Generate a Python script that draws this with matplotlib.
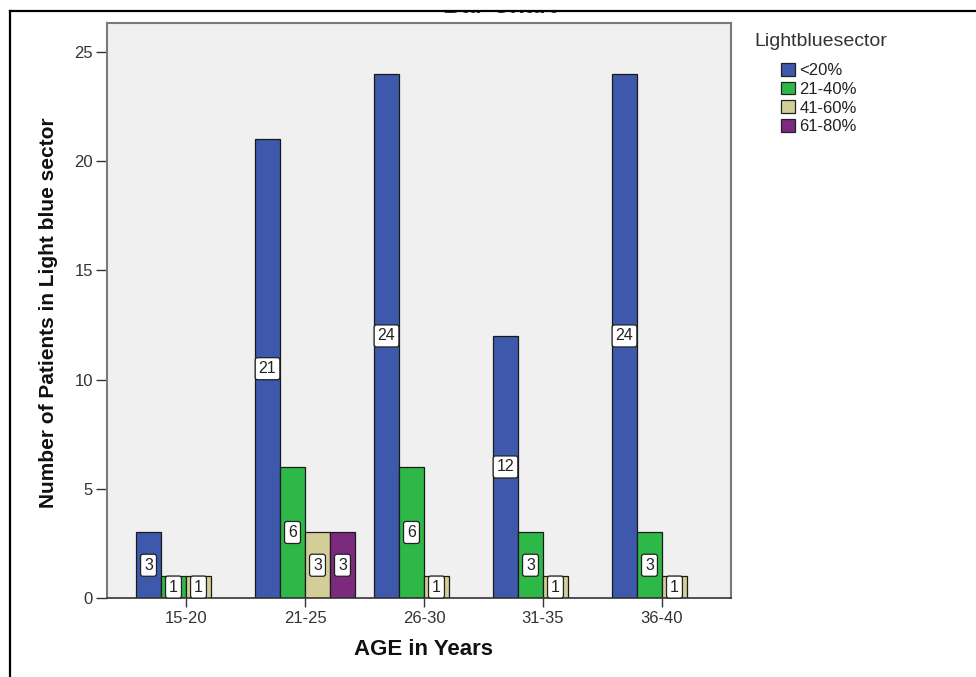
import matplotlib
matplotlib.use("Agg")
import matplotlib.pyplot as plt
import numpy as np
from matplotlib.patches import Patch, Rectangle
from matplotlib.lines import Line2D

plt.rcParams['font.family'] = ['Liberation Sans', 'DejaVu Sans']

age_groups = ["15-20", "21-25", "26-30", "31-35", "36-40"]
sectors = ["<20%", "21-40%", "41-60%", "61-80%"]
counts_lt20 = [3, 21, 24, 12, 24]
counts_21_40 = [1, 6, 6, 3, 3]
counts_41_60 = [1, 3, 1, 1, 1]
counts_61_80 = [0, 3, 0, 0, 0]
series = [counts_lt20, counts_21_40, counts_41_60, counts_61_80]
colors = ["#3E58AC", "#2EB848", "#D3CE97", "#7B2A7E"]

W, H = 976, 677
fig = plt.figure(figsize=(W / 100, H / 100), dpi=100)
fig.patch.set_facecolor("white")

ax = fig.add_axes([107 / W, 1 - 598 / H, (731 - 107) / W, (598 - 23) / H])
ax.set_facecolor("#F0F0F0")

x = np.arange(len(age_groups))
bw = 0.21
for i, (vals, c) in enumerate(zip(series, colors)):
    offs = (i - 1.5) * bw
    for xi, v in zip(x, vals):
        if v <= 0:
            continue
        ax.bar(xi + offs, v, width=bw, color=c, edgecolor="#1a1a1a", linewidth=0.9, zorder=2)
        ax.text(xi + offs, v / 2, str(v), ha="center", va="center", fontsize=11.5,
                color="#222222", zorder=4, clip_on=False,
                bbox=dict(boxstyle="round,pad=0.22,rounding_size=0.15", fc="white",
                          ec="#222222", lw=0.9))

ax.set_xlim(-0.664, 4.58)
ax.set_ylim(0, 26.33)
ax.set_xticks(x)
ax.set_xticklabels(age_groups)
ax.set_yticks([0, 5, 10, 15, 20, 25])
ax.tick_params(axis="x", direction="out", length=6.5, width=1, colors="#333333",
               labelsize=12, pad=3)
ax.tick_params(axis="y", direction="out", length=8, width=1, colors="#333333",
               labelsize=12, pad=2)
for s in ax.spines.values():
    s.set_color("#7a7a7a")
    s.set_linewidth(1.5)
ax.spines["bottom"].set_color("#333333")
ax.spines["bottom"].set_linewidth(1.2)

ax.set_xlabel("AGE in Years", fontsize=16, fontweight="bold", color="#111111", va="center")
ax.xaxis.set_label_coords(0.507, -0.0904)
ax.set_ylabel("Number of Patients in Light blue sector", fontsize=15, fontweight="bold",
              color="#111111", va="center")
ax.yaxis.set_label_coords(-0.093, 0.4965)

# legend
fig.text(754 / W, 1 - 42 / H, "Lightbluesector", fontsize=14, color="#333333",
         ha="left", va="center")
handles = [Patch(facecolor=c, edgecolor="#222222", linewidth=0.9) for c in colors]
fig.legend(handles, sectors, loc="upper left", bbox_to_anchor=(781 / W, 1 - 63 / H),
           frameon=False, borderpad=0, borderaxespad=0, handlelength=0.84,
           handleheight=0.78, handletextpad=0.25, labelspacing=0.22, fontsize=12,
           labelcolor="#222222")

# cropped title (as in the reference) and border frame
fig.text(500 / W, 1 - 13 / H, "Bar Chart", fontsize=18, fontweight="bold", color="#333333",
         ha="center", va="baseline", zorder=1)
fig.patches.append(Rectangle((0, 1 - 10.5 / H), 1, 10.5 / H, transform=fig.transFigure,
                             facecolor="white", edgecolor="none", zorder=5))
fig.lines.append(Line2D([10 / W, 1], [1 - 10.5 / H, 1 - 10.5 / H], transform=fig.transFigure,
                        color="black", linewidth=1.6, zorder=6))
fig.lines.append(Line2D([10 / W, 10 / W], [0, 1 - 10.5 / H], transform=fig.transFigure,
                        color="black", linewidth=1.6, zorder=6))

fig.savefig("out.png", dpi=100, facecolor="white")
